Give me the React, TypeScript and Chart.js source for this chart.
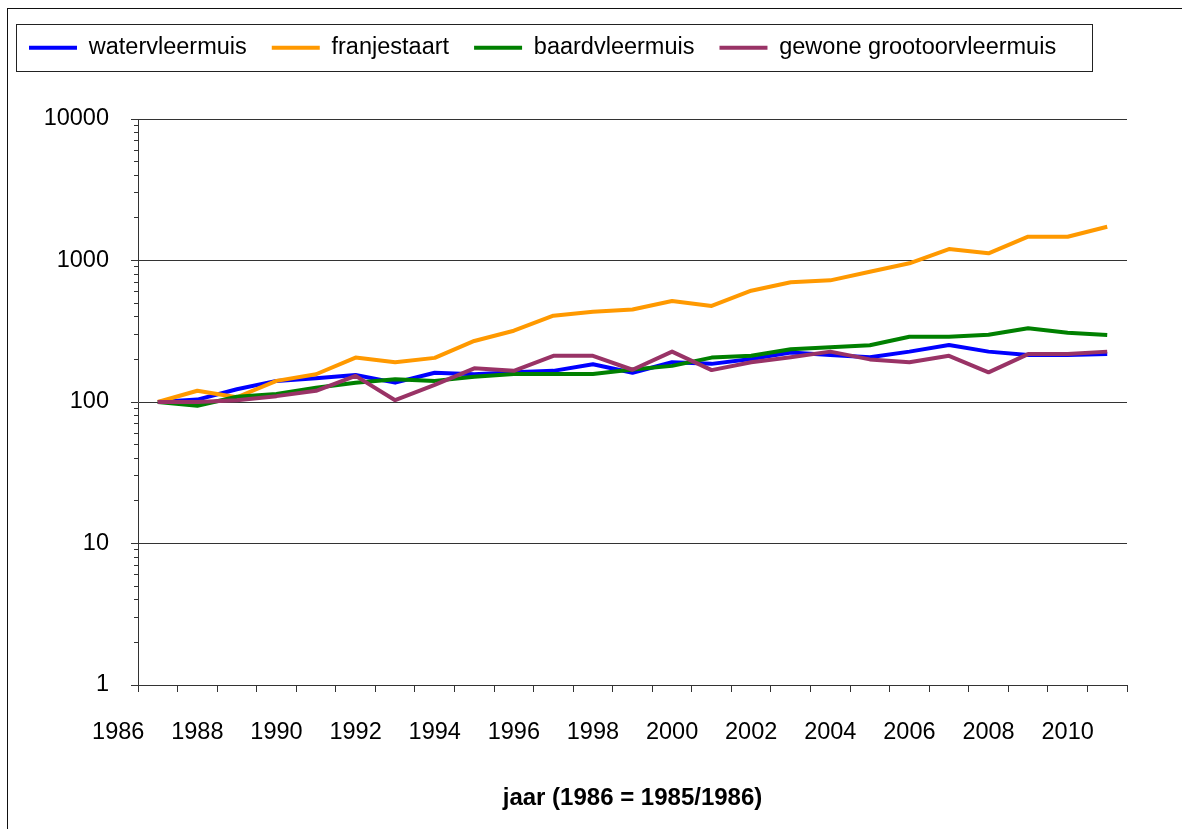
import React, { useEffect, useRef } from 'react';
import { Chart, registerables } from 'chart.js';

Chart.register(...registerables);

// ---- data ----
const years = [1987, 1988, 1989, 1990, 1991, 1992, 1993, 1994, 1995, 1996, 1997, 1998, 1999, 2000, 2001, 2002, 2003, 2004, 2005, 2006, 2007, 2008, 2009, 2010, 2011];
const watervleermuis = [100, 104, 123, 141, 147, 155, 137, 161, 157, 162, 166, 185, 161, 191, 186, 201, 224, 215, 207, 227, 253, 227, 215, 215, 218];
const franjestaart = [100, 120, 108, 141, 157, 206, 191, 205, 270, 319, 407, 435, 450, 517, 477, 612, 701, 724, 833, 955, 1205, 1124, 1473, 1473, 1733];
const baardvleermuis = [100, 94, 109, 114, 126, 137, 145, 141, 151, 158, 158, 158, 170, 180, 206, 212, 236, 244, 252, 289, 289, 299, 332, 309, 297];
const grootoorvleermuis = [100, 100, 103, 110, 120, 153, 103, 132, 173, 166, 212, 212, 169, 227, 168, 191, 207, 227, 200, 191, 212, 162, 218, 218, 227];

const seriesNames = ['watervleermuis', 'franjestaart', 'baardvleermuis', 'gewone grootoorvleermuis'];
const seriesValues = [watervleermuis, franjestaart, baardvleermuis, grootoorvleermuis];
const seriesColors = ['#0000FF', '#FF9900', '#008000', '#993366'];

const xLabelYears = [1986, 1988, 1990, 1992, 1994, 1996, 1998, 2000, 2002, 2004, 2006, 2008, 2010];
const yTickLabels = [1, 10, 100, 1000, 10000];
const xAxisTitle = 'jaar (1986 = 1985/1986)';

const FONT = "'Liberation Sans', Arial, Helvetica, sans-serif";

const xBoundaries = [...years.map((y) => y - 0.5), years[years.length - 1] + 0.5];
const xTickValues = [...xBoundaries, ...xLabelYears].sort((a, b) => a - b);
const yMinor: number[] = [];
for (let i = 0; i < yTickLabels.length - 1; i++) {
  for (let m = 2; m <= 9; m++) yMinor.push(yTickLabels[i] * m);
}
const yTickValues = [...yTickLabels, ...yMinor].sort((a, b) => a - b);

const isMajorY = (v: number) => yTickLabels.includes(v);
const isBoundary = (v: number) => xBoundaries.includes(v);
const isXLabel = (v: number) => xLabelYears.includes(v);

const legendFrame = {
  id: 'legendFrame',
  afterDraw(chart: any) {
    const lg = chart.legend;
    if (!lg || !lg.legendHitBoxes || !lg.legendHitBoxes.length) return;
    const hb = lg.legendHitBoxes;
    const first = hb[0];
    const last = hb[hb.length - 1];
    const left = Math.round(first.left - 13) + 0.5;
    const right = Math.round(last.left + last.width + 36) + 0.5;
    const top = Math.round(first.top - 12) + 0.5;
    const bottom = Math.round(first.top + first.height + 11) + 0.5;
    const ctx = chart.ctx;
    ctx.save();
    ctx.strokeStyle = '#222';
    ctx.lineWidth = 1;
    ctx.strokeRect(left, top, right - left, bottom - top);
    ctx.restore();
  },
};

export default function App() {
  const ref = useRef<HTMLCanvasElement>(null);

  useEffect(() => {
    const canvas = ref.current;
    if (!canvas) return;
    Chart.defaults.font.family = FONT;
    Chart.defaults.color = '#000';

    const datasets = seriesNames.map((name, i) => ({
      label: name,
      data: years.map((yr, k) => ({ x: yr, y: seriesValues[i][k] })),
      borderColor: seriesColors[i],
      backgroundColor: seriesColors[i],
      borderWidth: 4,
      pointRadius: 0,
      pointHoverRadius: 0,
      tension: 0,
      fill: false,
      borderJoinStyle: 'round' as const,
      order: seriesNames.length - 1 - i,
    }));

    const chart = new Chart(canvas, {
      type: 'line',
      data: { datasets },
      plugins: [legendFrame],
      options: {
        responsive: false,
        animation: false,
        devicePixelRatio: 1,
        layout: { padding: { top: 11, left: 4, right: 55, bottom: 0 } },
        plugins: {
          tooltip: { enabled: false },
          legend: {
            display: true,
            position: 'top',
            align: 'start',
            labels: {
              usePointStyle: true,
              pointStyle: 'line',
              pointStyleWidth: 48,
              font: { size: 23.5, family: FONT },
              color: '#000',
              padding: 25,
              sort: (a: any, b: any) => a.datasetIndex - b.datasetIndex,
            },
          },
          title: {
            display: true,
            text: '',
            position: 'top',
            weight: 500,
            font: { size: 12, lineHeight: 1.2 },
            padding: { top: 0, bottom: 35.1 },
          },
        },
        scales: {
          x: {
            type: 'linear',
            position: 'bottom',
            min: xBoundaries[0],
            max: xBoundaries[xBoundaries.length - 1],
            afterBuildTicks: (s: any) => {
              s.ticks = xTickValues.map((v) => ({ value: v }));
            },
            afterFit: (s: any) => {
              s.height = 144;
            },
            ticks: {
              autoSkip: false,
              maxRotation: 0,
              minRotation: 0,
              padding: 26,
              color: '#000',
              font: { size: 23.5, family: FONT },
              callback: (v: any) => (isXLabel(Number(v)) ? String(v) : ''),
            },
            grid: {
              drawOnChartArea: false,
              tickLength: 7,
              color: (c: any) => (c.tick && isBoundary(c.tick.value) ? '#333' : 'rgba(0,0,0,0)'),
              tickColor: (c: any) => (c.tick && isBoundary(c.tick.value) ? '#333' : 'rgba(0,0,0,0)'),
            },
            border: { display: true, color: '#333', width: 1 },
            title: {
              display: true,
              text: xAxisTitle,
              color: '#000',
              font: { size: 24, weight: 'bold', family: FONT },
              padding: { top: 0, bottom: 16 },
            },
          },
          y: {
            type: 'logarithmic',
            position: 'left',
            min: 1,
            max: 10000,
            afterBuildTicks: (s: any) => {
              s.ticks = yTickValues.map((v) => ({ value: v, major: isMajorY(v) }));
            },
            afterFit: (s: any) => {
              s.width = 134;
            },
            ticks: {
              autoSkip: false,
              padding: 22,
              color: '#000',
              font: { size: 23.5, family: FONT },
              callback: (v: any) => (isMajorY(Number(v)) ? String(v) : ''),
            },
            grid: {
              lineWidth: 1,
              tickLength: 7,
              color: (c: any) => (c.tick && isMajorY(c.tick.value) ? '#333' : 'rgba(0,0,0,0)'),
              tickColor: '#333',
              tickBorderDash: (c: any) => (c.tick && isMajorY(c.tick.value) ? [] : [4, 3]),
              tickBorderDashOffset: (c: any) => (c.tick && isMajorY(c.tick.value) ? 0 : 4),
            },
            border: { display: true, color: '#333', width: 1 },
          },
        },
      } as any,
    });
    return () => chart.destroy();
  }, []);

  return (
    <div style={{ position: 'fixed', left: 0, top: 0, width: 1182, height: 829, overflow: 'hidden', background: '#fff' }}>
      <canvas ref={ref} width={1182} height={829} style={{ display: 'block', width: 1182, height: 829 }} />
      <div
        style={{
          position: 'absolute',
          left: 7,
          top: 8,
          width: 1300,
          height: 1000,
          borderLeft: '1px solid #111',
          borderTop: '1px solid #111',
          pointerEvents: 'none',
        }}
      />
    </div>
  );
}
